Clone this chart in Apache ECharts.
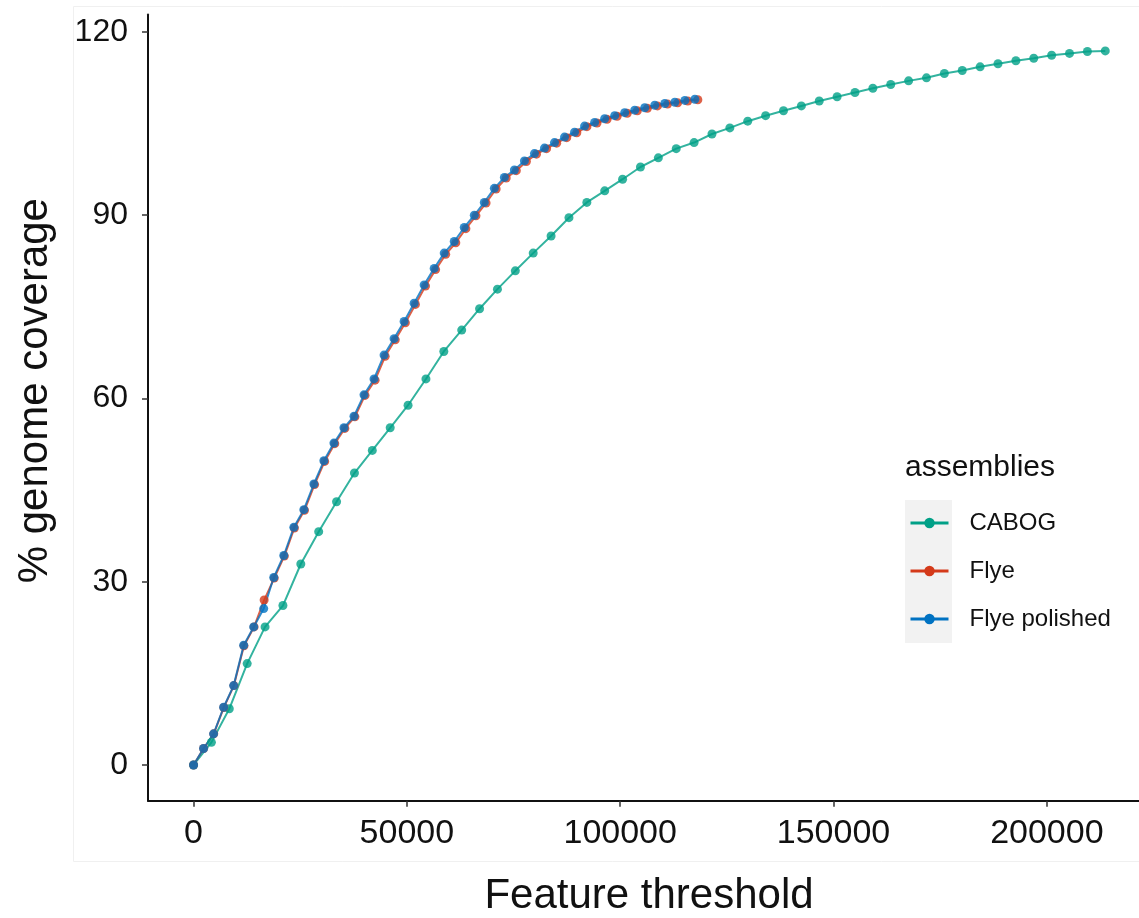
<!DOCTYPE html>
<html>
<head>
<meta charset="utf-8">
<script src="https://cdn.jsdelivr.net/npm/echarts@6/dist/echarts.min.js"></script>
<style>
  html, body { margin: 0; padding: 0; background: #ffffff; overflow: hidden; }
  #chart { width: 1150px; height: 918px; }
</style>
</head>
<body>
<div id="chart"></div>
<script>
const seriesNames = ['CABOG', 'Flye', 'Flye polished'];
const seriesColors = ['#00A087', '#D43A1A', '#0072C2'];

const cabogX = [0, 4190, 8380, 12570, 16760, 20950, 25140, 29330, 33520, 37710, 41900, 46090, 50280, 54470, 58660, 62850, 67040, 71230, 75420, 79610, 83800, 87990, 92180, 96370, 100560, 104750, 108940, 113130, 117320, 121510, 125700, 129890, 134080, 138270, 142460, 146650, 150840, 155030, 159220, 163410, 167600, 171790, 175980, 180170, 184360, 188550, 192740, 196930, 201120, 205310, 209500, 213690];
const cabogY = [0, 3.7, 9.2, 16.6, 22.6, 26.1, 32.9, 38.2, 43.1, 47.8, 51.5, 55.2, 58.9, 63.2, 67.7, 71.2, 74.7, 77.9, 80.9, 83.8, 86.6, 89.6, 92.1, 94.0, 95.9, 97.9, 99.4, 100.9, 101.9, 103.3, 104.3, 105.4, 106.3, 107.1, 107.9, 108.7, 109.4, 110.1, 110.8, 111.4, 112.0, 112.5, 113.2, 113.7, 114.3, 114.8, 115.3, 115.7, 116.2, 116.5, 116.8, 116.9];

const flyeX = [0, 2364, 4728, 7092, 9456, 11820, 14184, 16548, 18912, 21276, 23640, 26004, 28368, 30732, 33096, 35460, 37824, 40188, 42552, 44916, 47280, 49644, 52008, 54372, 56736, 59100, 61464, 63828, 66192, 68556, 70920, 73284, 75648, 78012, 80376, 82740, 85104, 87468, 89832, 92196, 94560, 96924, 99288, 101652, 104016, 106380, 108744, 111108, 113472, 115836, 118200];
const flyeY = [0, 2.7, 5.1, 9.4, 13.0, 19.5, 22.6, 27.0, 30.6, 34.2, 38.8, 41.7, 45.9, 49.7, 52.6, 55.1, 57.0, 60.5, 63.0, 66.9, 69.6, 72.4, 75.4, 78.4, 81.1, 83.6, 85.5, 87.8, 89.9, 92.0, 94.3, 96.1, 97.3, 98.8, 100.0, 100.9, 101.8, 102.7, 103.5, 104.5, 105.1, 105.7, 106.2, 106.7, 107.1, 107.5, 107.9, 108.2, 108.4, 108.7, 108.9];

const polishedX = [0, 2350, 4700, 7050, 9400, 11750, 14100, 16450, 18800, 21150, 23500, 25850, 28200, 30550, 32900, 35250, 37600, 39950, 42300, 44650, 47000, 49350, 51700, 54050, 56400, 58750, 61100, 63450, 65800, 68150, 70500, 72850, 75200, 77550, 79900, 82250, 84600, 86950, 89300, 91650, 94000, 96350, 98700, 101050, 103400, 105750, 108100, 110450, 112800, 115150, 117500];
const polishedY = [0, 2.7, 5.1, 9.45, 13.0, 19.6, 22.6, 25.6, 30.7, 34.3, 38.9, 41.8, 46.0, 49.8, 52.7, 55.2, 57.1, 60.6, 63.2, 67.1, 69.8, 72.6, 75.6, 78.6, 81.3, 83.8, 85.7, 88.0, 90.0, 92.1, 94.4, 96.2, 97.4, 98.9, 100.1, 101.0, 101.9, 102.8, 103.6, 104.6, 105.2, 105.8, 106.3, 106.8, 107.2, 107.6, 108.0, 108.3, 108.5, 108.8, 109.0];

const xTicks = [0, 50000, 100000, 150000, 200000];
const yTicks = [0, 30, 60, 90, 120];

const xTitle = 'Feature threshold';
const yTitle = '% genome coverage';
const legendTitle = 'assemblies';

function pairs(xs, ys) { return xs.map((x, i) => [x, ys[i]]); }

const FONT = 'Liberation Sans, Arial, Helvetica, sans-serif';

function lineSeries(name, color, data) {
  return {
    name: name,
    type: 'line',
    data: data,
    symbol: 'circle',
    symbolSize: 9,
    showSymbol: true,
    silent: true,
    animation: false,
    itemStyle: { color: color, opacity: 0.8 },
    lineStyle: { color: color, width: 2, opacity: 0.8 },
    emphasis: { disabled: true }
  };
}

const chart = echarts.init(document.getElementById('chart'), null, { renderer: 'canvas' });
chart.setOption({
  backgroundColor: '#ffffff',
  animation: false,
  grid: { left: 148, top: 14.6, right: 0, bottom: 117.3, containLabel: false, outerBoundsMode: 'none' },
  graphic: [
    { type: 'rect', z: -10, silent: true, shape: { x: 73.5, y: 6.5, width: 1100, height: 855 },
      style: { fill: 'none', stroke: '#f0f0f0', lineWidth: 1 } },
    { type: 'rect', z: 0, silent: true, shape: { x: 905, y: 500, width: 47, height: 143 },
      style: { fill: '#F2F2F2' } },
    { type: 'text', z: 5, silent: true, left: 905, top: 453,
      style: { text: legendTitle, fontSize: 30, fill: '#111', fontFamily: FONT } }
  ],
  legend: {
    data: seriesNames,
    orient: 'vertical',
    left: 909,
    top: 509,
    padding: 0,
    itemGap: 20,
    itemWidth: 38,
    itemHeight: 13,
    selectedMode: false,
    itemStyle: { opacity: 1 },
    lineStyle: { width: 3, opacity: 1 },
    textStyle: { fontSize: 24, color: '#111', fontFamily: FONT, lineHeight: 28, padding: [0, 0, 0, 16] }
  },
  xAxis: {
    type: 'value',
    min: -10675,
    max: 224175,
    name: xTitle,
    nameLocation: 'middle',
    nameGap: 75,
    nameTextStyle: { fontSize: 42, color: '#111', fontFamily: FONT },
    axisLine: { show: true, onZero: false, lineStyle: { color: '#111', width: 2 } },
    axisTick: { show: true, customValues: xTicks, length: 6, lineStyle: { color: '#333', width: 1.5 } },
    axisLabel: { customValues: xTicks, fontSize: 34, color: '#111', margin: 16, fontFamily: FONT,
      formatter: v => String(v) },
    splitLine: { show: false }
  },
  yAxis: {
    type: 'value',
    min: -5.85,
    max: 122.85,
    name: yTitle,
    nameLocation: 'middle',
    nameGap: 92,
    nameTextStyle: { fontSize: 42, color: '#111', fontFamily: FONT, padding: [0, 0, 0, 34] },
    axisLine: { show: true, onZero: false, lineStyle: { color: '#111', width: 2 } },
    axisTick: { show: true, customValues: yTicks, length: 6, lineStyle: { color: '#333', width: 1.5 } },
    axisLabel: { customValues: yTicks, fontSize: 32, color: '#111', margin: 20, fontFamily: FONT,
      formatter: v => String(v) },
    splitLine: { show: false }
  },
  series: [
    lineSeries(seriesNames[0], seriesColors[0], pairs(cabogX, cabogY)),
    lineSeries(seriesNames[1], seriesColors[1], pairs(flyeX, flyeY)),
    lineSeries(seriesNames[2], seriesColors[2], pairs(polishedX, polishedY))
  ]
});
</script>
</body>
</html>
